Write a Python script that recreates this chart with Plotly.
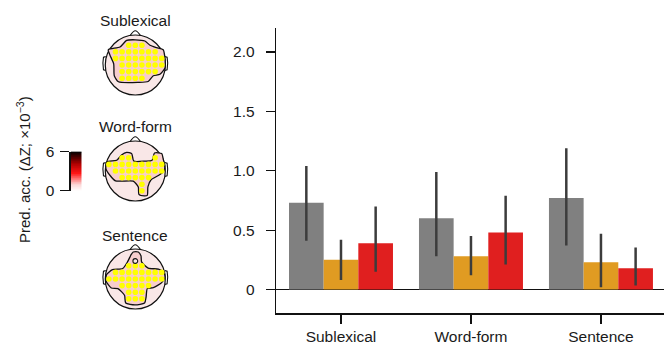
import plotly.graph_objects as go

W, H = 664, 345

# ---------------- bar data ----------------
categories = ["Sublexical", "Word-form", "Sentence"]
gray_vals = [0.73, 0.60, 0.77]
gray_hi = [1.04, 0.99, 1.19]
gray_lo = [0.41, 0.28, 0.37]
orange_vals = [0.25, 0.28, 0.23]
orange_hi = [0.42, 0.45, 0.47]
orange_lo = [0.08, 0.12, 0.02]
red_vals = [0.39, 0.48, 0.18]
red_hi = [0.70, 0.79, 0.355]
red_lo = [0.15, 0.21, 0.035]
ytick_vals = [0, 0.5, 1.0, 1.5, 2.0]
ytick_text = ["0", "0.5", "1.0", "1.5", "2.0"]

# ---------------- topomap data ----------------
topo_titles = ["Sublexical", "Word-form", "Sentence"]
grid_cols = [-0.88, -0.66, -0.44, -0.22, 0.0, 0.22, 0.44, 0.66, 0.88]
grid_rows = [0.66, 0.44, 0.22, 0.0, -0.22, -0.44, -0.66]
sublexical_mask = ["...xxx...",
                   ".xxxxxxx.",
                   ".xxxxxxxx",
                   "..xxxxxxx",
                   "..xxxxxx.",
                   "..xxxx...",
                   "........."]
wordform_mask = [".........",
                 "..xx...x.",
                 "xxxxxxxxx",
                 ".xxxxxxxx",
                 "..xxxxx..",
                 ".....x...",
                 ".....x..."]
sentence_mask = [".........",
                 "...xxx...",
                 ".xxxxxxxx",
                 "xxxxxxxxx",
                 "..xxxxx..",
                 "...xxx...",
                 "...xxx..."]
sublexical_contour_x = [-0.90, -0.51, -0.29, 0.00, 0.32, 0.49, 0.71, 0.93, 0.98, 1.0, 0.99, 0.82, 0.60, 0.43, 0.10, -0.56, -0.70, -0.72, -0.84, -0.90]
sublexical_contour_y = [0.51, 0.60, 0.82, 0.84, 0.80, 0.66, 0.58, 0.51, 0.30, 0.05, -0.10, -0.31, -0.36, -0.55, -0.58, -0.56, -0.36, 0.04, 0.32, 0.51]
wordform_contour_x = [-0.95, -0.62, -0.46, -0.29, -0.12, -0.05, 0.32, 0.56, 0.64, 0.88, 0.93, 0.98, 0.97, 0.82, 0.52, 0.42, 0.40, 0.30, 0.12, 0.10, -0.07, -0.46, -0.66, -0.84, -0.98, -0.95]
wordform_contour_y = [0.30, 0.36, 0.53, 0.62, 0.58, 0.33, 0.33, 0.36, 0.60, 0.58, 0.40, 0.20, 0.02, -0.12, -0.30, -0.53, -0.81, -0.83, -0.78, -0.53, -0.34, -0.34, -0.33, -0.15, 0.08, 0.30]
sentence_contour_x = [-0.14, -0.07, 0.10, 0.19, 0.21, 0.43, 0.77, 0.95, 0.99, 0.88, 0.60, 0.40, 0.36, 0.31, -0.01, -0.32, -0.36, -0.58, -0.80, -0.97, -0.96, -0.76, -0.42, -0.26, -0.18, -0.14]
sentence_contour_y = [0.81, 0.90, 0.90, 0.77, 0.57, 0.36, 0.33, 0.23, 0.05, -0.12, -0.29, -0.32, -0.60, -0.80, -0.86, -0.80, -0.54, -0.32, -0.30, -0.08, 0.14, 0.31, 0.35, 0.57, 0.73, 0.81]
sentence_hole = (0.0, 0.60)
cbar_levels = [i * 0.1 for i in range(61)]
cbar_ticks = [0, 6]

masks = [sublexical_mask, wordform_mask, sentence_mask]
contours = [(sublexical_contour_x, sublexical_contour_y),
            (wordform_contour_x, wordform_contour_y),
            (sentence_contour_x, sentence_contour_y)]

FONT = "Liberation Sans, Arial, sans-serif"
TXT = "#1a1a1a"
FS = 15.5

fig = go.Figure()

# ---------------- bars ----------------
bar_series = [
    ("Gray", gray_vals, gray_hi, gray_lo, "#808080"),
    ("Orange", orange_vals, orange_hi, orange_lo, "#e09b22"),
    ("Red", red_vals, red_hi, red_lo, "#e01f1f"),
]
for name, vals, hi, lo, col in bar_series:
    fig.add_trace(go.Bar(
        x=categories, y=vals, name=name, marker=dict(color=col, line=dict(width=0)),
        error_y=dict(type="data", symmetric=False,
                     array=[h - v for h, v in zip(hi, vals)],
                     arrayminus=[v - l for v, l in zip(vals, lo)],
                     color="#3c3c3c", thickness=2.5, width=0),
        showlegend=False, xaxis="x", yaxis="y"))

# ---------------- topomaps ----------------
head_centers_px = [65, 171, 279]
shapes = []
for i in range(3):
    ax = i + 2
    xa, ya = f"x{ax}", f"y{ax}"
    cx = 135.3
    cy = head_centers_px[i]
    half = 40
    fig.layout[f"xaxis{ax}"] = dict(domain=[(cx - half) / W, (cx + half) / W], anchor=ya,
                                    range=[-1.333, 1.333], visible=False, fixedrange=True,
                                    automargin=False)
    fig.layout[f"yaxis{ax}"] = dict(domain=[(H - cy - half) / H, (H - cy + half) / H], anchor=xa,
                                    range=[-1.333, 1.333], visible=False, fixedrange=True,
                                    automargin=False)
    shapes.append(dict(type="circle", xref=xa, yref=ya, x0=-1, x1=1, y0=-1, y1=1,
                       fillcolor="#f9e7e7", line=dict(color="#111", width=1.2), layer="below"))
    shapes.append(dict(type="path", xref=xa, yref=ya,
                       path="M -0.17 0.985 Q -0.06 1.14 0 1.14 Q 0.06 1.14 0.17 0.985",
                       line=dict(color="#111", width=1.1)))
    shapes.append(dict(type="path", xref=xa, yref=ya,
                       path="M -0.985 0.28 L -1.06 0.26 Q -1.10 0.06 -1.06 -0.16 L -0.985 -0.18",
                       line=dict(color="#111", width=1.1)))
    shapes.append(dict(type="path", xref=xa, yref=ya,
                       path="M 0.985 0.28 L 1.06 0.26 Q 1.10 0.06 1.06 -0.16 L 0.985 -0.18",
                       line=dict(color="#111", width=1.1)))
    cxs, cys = contours[i]
    fig.add_trace(go.Scatter(x=cxs, y=cys, mode="lines", fill="toself",
                             fillcolor="#f7cdcd",
                             line=dict(color="#111", width=1.3, shape="spline", smoothing=0.6),
                             hoverinfo="skip", showlegend=False, xaxis=xa, yaxis=ya))
    dx, dy = [], []
    for r, row in enumerate(masks[i]):
        for c, ch in enumerate(row):
            if ch == "x":
                dx.append(grid_cols[c])
                dy.append(grid_rows[r])
    fig.add_trace(go.Scatter(x=dx, y=dy, mode="markers",
                             marker=dict(color="#ffff00", size=5.6, line=dict(width=0)),
                             hoverinfo="skip", showlegend=False, xaxis=xa, yaxis=ya))
    fig.add_annotation(text=topo_titles[i], x=cx / W, y=(H - (cy - 44)) / H,
                       xref="paper", yref="paper", showarrow=False,
                       xanchor="center", yanchor="middle",
                       font=dict(size=FS, color=TXT, family=FONT))

shapes.append(dict(type="circle", xref="x4", yref="y4",
                   x0=sentence_hole[0] - 0.08, x1=sentence_hole[0] + 0.08,
                   y0=sentence_hole[1] - 0.08, y1=sentence_hole[1] + 0.08,
                   fillcolor="#f9e7e7", line=dict(color="#111", width=1.1)))

# ---------------- colorbar ----------------
fig.add_trace(go.Heatmap(z=[[v] for v in cbar_levels], x=[0], y=cbar_levels,
                         colorscale=[[0, "#ffffff"], [0.18, "#fbd0d0"], [0.45, "#ff1515"],
                                     [0.7, "#aa0000"], [1, "#000000"]],
                         zmin=0, zmax=6, showscale=False, hoverinfo="skip",
                         xaxis="x5", yaxis="y5"))
fig.layout["xaxis5"] = dict(domain=[70.7 / W, 81.7 / W], anchor="y5", range=[-0.5, 0.5],
                            visible=False, fixedrange=True, automargin=False)
fig.layout["yaxis5"] = dict(domain=[(H - 190.7) / H, (H - 151.7) / H], anchor="x5", range=[0, 6],
                            tickvals=cbar_ticks, ticktext=[str(t) for t in cbar_ticks],
                            ticks="outside", ticklen=9, tickwidth=1.3, tickcolor="#111",
                            showline=True, linecolor="#111", linewidth=1.3,
                            showgrid=False, zeroline=False, ticklabelstandoff=3,
                            tickfont=dict(size=FS, color=TXT, family=FONT), fixedrange=True,
                            automargin=False)
shapes.append(dict(type="line", xref="x5", yref="y5", x0=-0.5, x1=0.5, y0=6, y1=6,
                   line=dict(color="#111", width=1.3)))

fig.add_annotation(text="Pred. acc. (ΔZ; ×10<sup>−3</sup>)", textangle=-90,
                   x=23 / W, y=(H - 170) / H, xref="paper", yref="paper", showarrow=False,
                   xanchor="center", yanchor="middle",
                   font=dict(size=15, color=TXT, family=FONT))

# ---------------- bar axes ----------------
fig.update_layout(
    width=W, height=H, autosize=False,
    margin=dict(l=0, r=0, t=0, b=0, pad=0, autoexpand=False),
    paper_bgcolor="white", plot_bgcolor="rgba(0,0,0,0)",
    barmode="group", bargap=0.2, bargroupgap=0,
    font=dict(family=FONT, color=TXT),
    shapes=shapes,
    xaxis=dict(domain=[276.0 / W, 1.0], anchor="y", range=[-0.5, 2.485], type="category",
               showline=True, linecolor="#111", linewidth=1.3,
               ticks="outside", ticklen=9, tickwidth=1.3, tickcolor="#111",
               tickfont=dict(size=FS, color=TXT, family=FONT), ticklabelstandoff=0,
               showgrid=False, zeroline=False, fixedrange=True, automargin=False),
    yaxis=dict(domain=[31.7 / H, 316.7 / H], anchor="x", range=[-0.2, 2.2],
               tickvals=ytick_vals, ticktext=ytick_text,
               showline=True, linecolor="#111", linewidth=1.3,
               ticks="outside", ticklen=9, tickwidth=1.3, tickcolor="#111",
               tickfont=dict(size=FS, color=TXT, family=FONT), ticklabelstandoff=8,
               showgrid=False, zeroline=True, zerolinecolor="#111", zerolinewidth=1.3,
               fixedrange=True, automargin=False),
)

fig.write_html("out.html", config={"displayModeBar": False, "staticPlot": True},
               post_script="document.body.style.margin='0';document.body.style.overflow='hidden';")
